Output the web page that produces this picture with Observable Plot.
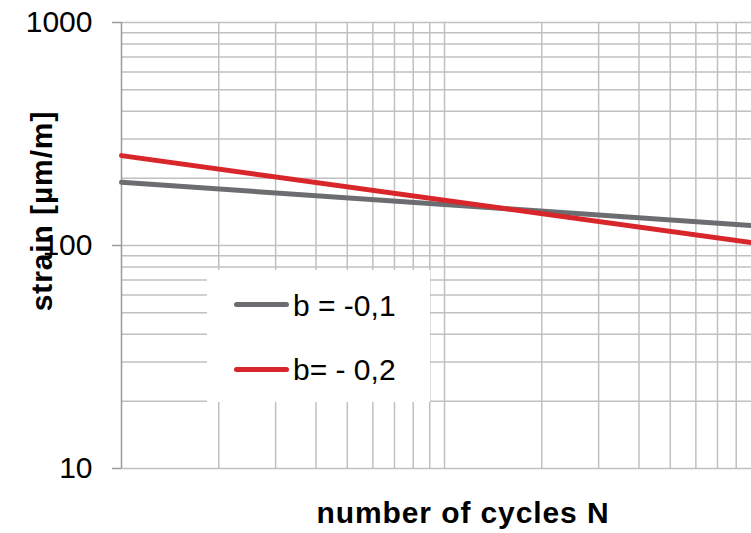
<!DOCTYPE html>
<html><head><meta charset="utf-8">
<script src="https://cdn.jsdelivr.net/npm/d3@7"></script>
<script src="https://cdn.jsdelivr.net/npm/@observablehq/plot@0.6"></script>
<style>
body{margin:0;background:#fff;}
#wrap{position:relative;width:751px;height:533px;font-family:"Liberation Sans",Arial,sans-serif;overflow:hidden;background:#fff}
.title{position:absolute;font-weight:bold;font-size:30px;line-height:30px;letter-spacing:0.9px;white-space:nowrap;color:#000}
#legend{position:absolute;left:207px;top:270px;width:223px;height:132px;background:#fff}
.sw{position:absolute;left:27px;width:55px;height:5px;border-radius:2.5px}
.lt{position:absolute;left:86px;font-size:30px;line-height:30px;white-space:nowrap;color:#000}
</style></head><body><div id="wrap"></div>
<script>
// data (log-log straight lines)
const cycles = [1, 89.2];
const strainB01 = [192, 123];
const strainB02 = [253, 103];
const seriesNames = ["b = -0,1", "b= - 0,2"];
const seriesColors = ["#6b6d70", "#d9262a"];
const yMajorTicks = [10, 100, 1000];
const yGridValues = [20, 30, 40, 50, 60, 70, 80, 90, 100, 200, 300, 400, 500, 600, 700, 800, 900, 1000];
const xGridValues = [2, 3, 4, 5, 6, 7, 8, 9, 10, 20, 30, 40, 50, 60, 70, 80];
const xTitle = "number of cycles N";
const yTitle = "strain [µm/m]";

const rows = [
  ...cycles.map((n, i) => ({n, s: strainB01[i], series: seriesNames[0]})),
  ...cycles.map((n, i) => ({n, s: strainB02[i], series: seriesNames[1]}))
];

const chart = Plot.plot({
  width: 751,
  height: 533,
  marginLeft: 121,
  marginTop: 22,
  marginRight: 0,
  marginBottom: 65,
  style: {fontFamily: "'Liberation Sans', Arial, sans-serif", fontSize: "30px", background: "#fff", overflow: "visible"},
  x: {type: "log", domain: d3.extent(cycles), axis: null},
  y: {type: "log", domain: [10, 1000]},
  color: {domain: seriesNames, range: seriesColors},
  marks: [
    Plot.ruleY(yGridValues, {stroke: "#c0c0c0", strokeWidth: 1.5}),
    Plot.ruleX(xGridValues, {stroke: "#c0c0c0", strokeWidth: 1.5}),
    Plot.ruleY([10], {stroke: "#c0c0c0", strokeWidth: 1.5}),
    Plot.ruleX([cycles[0]], {stroke: "#9a9a9a", strokeWidth: 1.5}),
    Plot.axisY(yMajorTicks, {tickSize: 9, tickPadding: 20, tickFormat: d => String(d), stroke: "#9a9a9a", strokeWidth: 1.5, fill: "#000", fontSize: 30, label: null}),
    Plot.line(rows, {x: "n", y: "s", z: "series", stroke: "series", strokeWidth: 5})
  ]
});

const wrap = document.getElementById("wrap");
wrap.appendChild(chart);

const xt = document.createElement("div");
xt.className = "title";
xt.textContent = xTitle;
xt.style.left = "0px"; xt.style.width = "926px"; xt.style.textAlign = "center";
xt.style.top = "497.6px";
wrap.appendChild(xt);

const yt = document.createElement("div");
yt.className = "title";
yt.textContent = yTitle;
yt.style.width = "300px"; yt.style.textAlign = "center";
yt.style.left = (42 - 150) + "px";
yt.style.top = (211 - 15) + "px";
yt.style.transform = "rotate(-90deg)";
wrap.appendChild(yt);

const lg = document.createElement("div");
lg.id = "legend";
seriesNames.forEach((name, i) => {
  const sw = document.createElement("div");
  sw.className = "sw";
  sw.style.top = (31.5 + i * 65) + "px";
  sw.style.background = seriesColors[i];
  lg.appendChild(sw);
  const t = document.createElement("div");
  t.className = "lt";
  t.style.top = (20.6 + i * 64) + "px";
  t.textContent = name;
  lg.appendChild(t);
});
wrap.appendChild(lg);
</script>
</body></html>
